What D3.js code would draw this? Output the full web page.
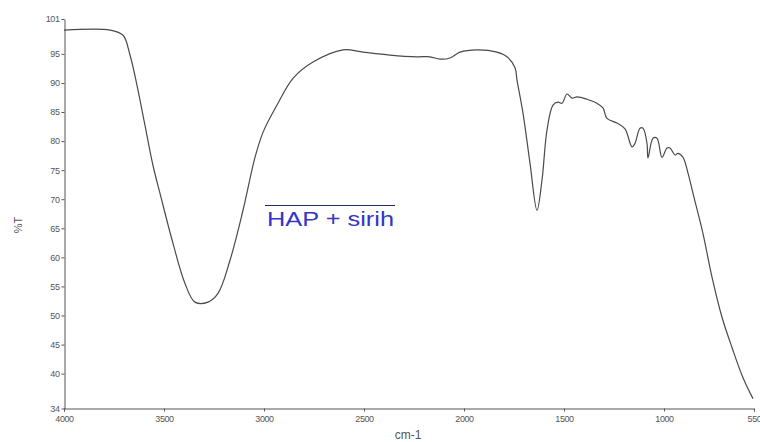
<!DOCTYPE html>
<html lang="en">
<head>
  <meta charset="UTF-8" />
  <title>HAP + sirih FTIR</title>
  <style>
    html, body { margin: 0; padding: 0; background: #fff; }
    svg { display: block; font-family: "Liberation Sans", Arial, sans-serif; }
    .tick text { fill: #555; font-size: 9px; letter-spacing: -0.4px; }
    .domain, .tick line { stroke: #555; }
  </style>
  <script src="https://d3js.org/d3.v7.min.js"></script>
</head>
<body>
  <svg id="chart" width="760" height="442"></svg>
  <script>
    // wavenumber (cm-1) and transmittance (%T)
    const wavenumber = [4000, 3770, 3705, 3670, 3635, 3595, 3555, 3520, 3455, 3395, 3345, 3280, 3230, 3170,
      3105, 3045, 3005, 2935, 2855, 2755, 2605, 2505, 2370, 2235, 2170, 2120, 2070, 2020, 1935, 1835, 1785,
      1745, 1735, 1705, 1670, 1635, 1610, 1585, 1555, 1530, 1510, 1485, 1460, 1435, 1385, 1335, 1305, 1285,
      1235, 1195, 1160, 1145, 1120, 1105, 1085, 1080, 1055, 1035, 1010, 985, 970, 945, 930, 905, 880, 855,
      830, 805, 760, 710, 660, 605, 555];
    const transmittance = [99.1, 99.1, 98.2, 94.8, 89.6, 82.7, 75.8, 71.0, 62.4, 55.5, 52.3, 52.3, 53.8, 59.5,
      68.1, 77.2, 81.5, 86.2, 90.8, 93.6, 95.7, 95.3, 94.8, 94.5, 94.5, 94.1, 94.3, 95.3, 95.7, 95.3, 94.5,
      92.6, 90.5, 84.8, 76.2, 68.1, 73.3, 81.9, 86.2, 86.7, 86.5, 88.1, 87.4, 87.6, 87.2, 86.5, 85.7, 83.9,
      83.1, 82.1, 79.0, 79.6, 82.2, 82.2, 79.6, 77.1, 80.5, 80.5, 77.2, 78.8, 78.8, 77.6, 77.9, 77.2, 74.5, 71.0,
      67.6, 64.1, 56.6, 49.7, 44.5, 39.3, 35.7];
    const xTicks = [4000, 3500, 3000, 2500, 2000, 1500, 1000, 550];
    const yTicks = [101, 95, 90, 85, 80, 75, 70, 65, 60, 55, 50, 45, 40, 34];

    const svg = d3.select("#chart");
    const x = d3.scaleLinear().domain([4000, 550]).range([64, 754]);
    const y = d3.scaleLinear().domain([34, 101]).range([408.5, 19]);

    svg.append("g")
      .attr("transform", "translate(0,408.5)")
      .call(d3.axisBottom(x).tickValues(xTicks).tickSize(3).tickPadding(2).tickFormat(d3.format("d")))
      .call(g => g.selectAll(".tick text").attr("dy", "0.9em"));

    svg.append("g")
      .attr("transform", "translate(64.5,0)")
      .call(d3.axisLeft(y).tickValues(yTicks).tickSize(3).tickPadding(2).tickSizeOuter(0).tickFormat(d3.format("d")));

    const line = d3.line()
      .x((d, i) => x(wavenumber[i]))
      .y(d => y(d))
      .curve(d3.curveCatmullRom.alpha(0.5));

    svg.append("path")
      .datum(transmittance)
      .attr("fill", "none")
      .attr("stroke", "#4a4a4a")
      .attr("stroke-width", 1.2)
      .attr("d", line);

    svg.append("text")
      .attr("transform", "translate(22,225) rotate(-90)")
      .attr("text-anchor", "middle")
      .attr("fill", "#555")
      .attr("font-size", 11)
      .text("%T");

    svg.append("text")
      .attr("x", 408)
      .attr("y", 439)
      .attr("text-anchor", "middle")
      .attr("fill", "#555")
      .attr("font-size", 12)
      .text("cm-1");

    // sample label with overline
    svg.append("line")
      .attr("x1", 265).attr("x2", 395)
      .attr("y1", 205.5).attr("y2", 205.5)
      .attr("stroke", "#2a2a70")
      .attr("stroke-width", 1.2);

    svg.append("text")
      .attr("x", 267)
      .attr("y", 226)
      .attr("fill", "#3535c8")
      .attr("font-size", 20)
      .attr("textLength", 127)
      .attr("lengthAdjust", "spacingAndGlyphs")
      .text("HAP + sirih");
  </script>
</body>
</html>
